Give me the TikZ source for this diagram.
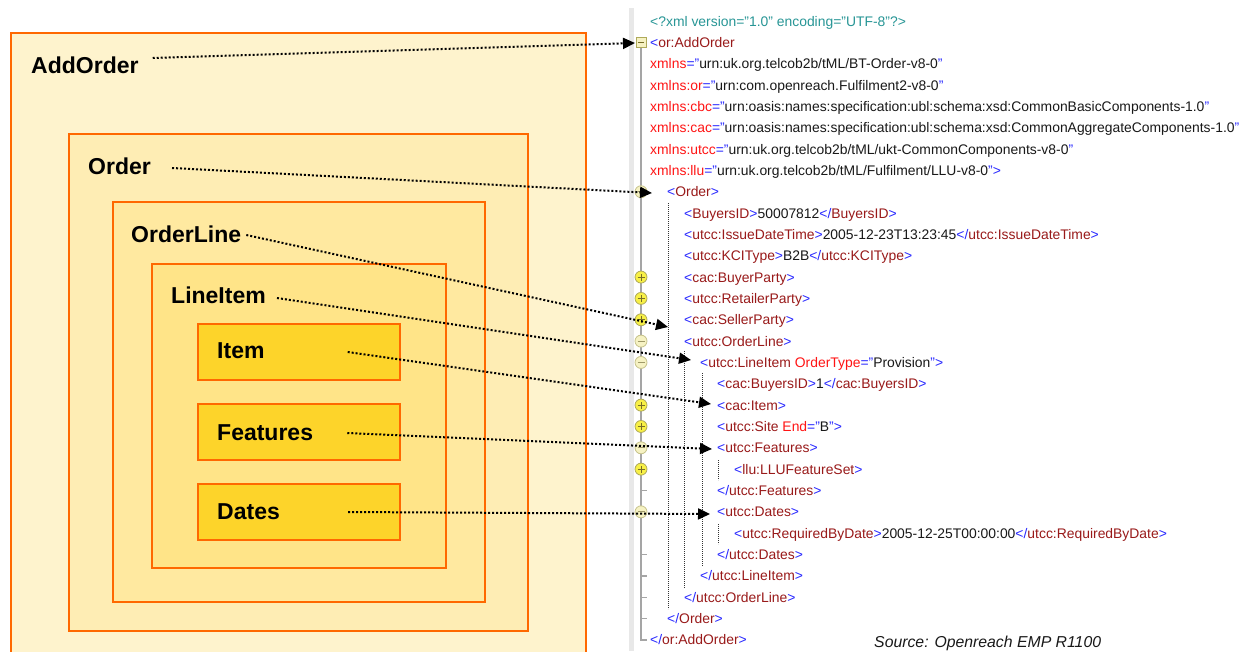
\documentclass[tikz,border=0pt]{standalone}
\usepackage{fontspec}
\setmainfont{Liberation Sans}
\usetikzlibrary{arrows.meta}
\definecolor{bord}{RGB}{255,104,0}
\definecolor{fA}{RGB}{254,243,205}
\definecolor{fB}{RGB}{254,237,180}
\definecolor{fC}{RGB}{255,233,160}
\definecolor{fD}{RGB}{255,228,136}
\definecolor{fE}{RGB}{253,212,42}
\definecolor{xb}{RGB}{40,40,255}
\definecolor{xr}{RGB}{153,26,26}
\definecolor{xa}{RGB}{255,20,20}
\definecolor{xt}{RGB}{40,150,150}
\definecolor{xk}{RGB}{25,25,25}
\definecolor{iconb}{RGB}{175,170,90}
\definecolor{iconp}{RGB}{248,240,70}
\definecolor{iconq}{RGB}{246,242,195}
\definecolor{iconl}{RGB}{120,110,40}
\definecolor{treeg}{RGB}{165,165,165}
\definecolor{bandg}{RGB}{232,232,232}
\newcommand\XLt{\textcolor{xb}{<}}
\newcommand\XGt{\textcolor{xb}{>}}
\newcommand\XLs{\textcolor{xb}{</}}
\newcommand\XEl[1]{\textcolor{xr}{#1}}
\newcommand\XAt[1]{\textcolor{xa}{#1}}
\newcommand\XEq{\textcolor{xb}{="}}
\newcommand\XQ{\textcolor{xb}{"}}
\newcommand\XV[1]{\textcolor{xk}{#1}}
\newcommand\XOpen[1]{\XLt\XEl{#1}\XGt}
\newcommand\XClose[1]{\XLs\XEl{#1}\XGt}
\newcommand\xmlsize{\fontsize{13.9}{16}\selectfont}
\tikzset{
  box/.style={draw=bord, line width=2pt, anchor=north west, inner sep=0pt},
  lab/.style={anchor=base west, inner sep=0pt, font=\fontsize{23}{26}\selectfont\bfseries},
  xl/.style={anchor=base west, inner sep=0pt, font=\xmlsize},
  conn/.style={line width=2pt, dash pattern=on 2pt off 2pt, -{Triangle[length=12pt,width=11pt]}},
  treedot/.style={line width=0.8pt, dash pattern=on 0.8pt off 1.2pt, black!80},
  plusic/.style={circle, draw=iconb, fill=iconp, minimum size=12pt, inner sep=0pt, line width=0.8pt,
    path picture={\draw[iconl,line width=0.9pt]
      ([xshift=-3.5pt]path picture bounding box.center)--([xshift=3.5pt]path picture bounding box.center)
      ([yshift=-3.5pt]path picture bounding box.center)--([yshift=3.5pt]path picture bounding box.center);}},
  minusic/.style={circle, draw=iconb!70, fill=iconq, minimum size=12pt, inner sep=0pt, line width=0.8pt,
    path picture={\draw[iconl!70,line width=0.9pt]
      ([xshift=-3.5pt]path picture bounding box.center)--([xshift=3.5pt]path picture bounding box.center);}},
  sqic/.style={rectangle, draw=iconb, fill=iconq, minimum size=10pt, inner sep=0pt, line width=0.8pt,
    path picture={\draw[iconl,line width=0.9pt]
      ([xshift=-3pt]path picture bounding box.center)--([xshift=3pt]path picture bounding box.center);}}
}
\begin{document}
\begin{tikzpicture}[x=1pt,y=-1pt]
\useasboundingbox (0,0) rectangle (1241,651);
\fill[white] (0,0) rectangle (1241,651);
% nested boxes
\node[box, fill=fA, minimum width=575pt, minimum height=624pt] (bAdd) at (10,32) {};
\node[box, fill=fB, minimum width=459pt, minimum height=497pt] (bOrd) at (68,133) {};
\node[box, fill=fC, minimum width=372pt, minimum height=400pt] (bOL) at (112,201) {};
\node[box, fill=fD, minimum width=294pt, minimum height=304pt] (bLI) at (151,263) {};
\node[box, fill=fE, minimum width=202pt, minimum height=56pt] (bIt) at (197,323) {};
\node[box, fill=fE, minimum width=202pt, minimum height=56pt] (bFe) at (197,403) {};
\node[box, fill=fE, minimum width=202pt, minimum height=56pt] (bDa) at (197,483) {};
% labels
\node[lab] (tAdd) at (31,73) {AddOrder};
\node[lab] (tOrd) at (88,174) {Order};
\node[lab] (tOL) at (131,242) {OrderLine};
\node[lab] (tLI) at (171,303) {LineItem};
\node[lab] (tIt) at (217,358) {Item};
\node[lab] (tFe) at (217,440) {Features};
\node[lab] (tDa) at (217,519) {Dates};
% xml panel structure
\fill[bandg] (629,8) rectangle (634,651);
\draw[treeg, line width=1.5pt] (641,48) -- (641,{21+21.34*29}) -- (647,{21+21.34*29});
\foreach \r in {22,25,26,27,28} \draw[treeg, line width=1.3pt] (641,{21+21.34*\r}) -- (647,{21+21.34*\r});
\draw[treedot] (668,203) -- (668,609);
\draw[treedot] (684,351) -- (684,588);
\draw[treedot] (702,373) -- (702,566);
\draw[treedot] (718,460) -- (718,480);
\draw[treedot] (718,524) -- (718,544);
% xml text
\node[xl] (l0) at (650,{26+21.34*0}) {\textcolor{xt}{<?xml version="1.0" encoding="UTF-8"?>}};
\node[xl] (l1) at (650,{26.5+21.34*1}) {\XLt\XEl{or:AddOrder}};
\node[xl] (l2) at (650,{26+21.34*2}) {\XAt{xmlns}\XEq\XV{urn:uk.org.telcob2b/tML/BT-Order-v8-0}\XQ};
\node[xl] (l3) at (650,{26+21.34*3}) {\XAt{xmlns:or}\XEq\XV{urn:com.openreach.Fulfilment2-v8-0}\XQ};
\node[xl] (l4) at (650,{26+21.34*4}) {\XAt{xmlns:cbc}\XEq\XV{urn:oasis:names:specification:ubl:schema:xsd:CommonBasicComponents-1.0}\XQ};
\node[xl] (l5) at (650,{26+21.34*5}) {\XAt{xmlns:cac}\XEq\XV{urn:oasis:names:specification:ubl:schema:xsd:CommonAggregateComponents-1.0}\XQ};
\node[xl] (l6) at (650,{26+21.34*6}) {\XAt{xmlns:utcc}\XEq\XV{urn:uk.org.telcob2b/tML/ukt-CommonComponents-v8-0}\XQ};
\node[xl] (l7) at (650,{26+21.34*7}) {\XAt{xmlns:llu}\XEq\XV{urn:uk.org.telcob2b/tML/Fulfilment/LLU-v8-0}\XQ\XGt};
\node[xl] (l8) at (667,{26+21.34*8}) {\XOpen{Order}};
\node[xl] (l9) at (684,{26+21.34*9}) {\XOpen{BuyersID}\XV{50007812}\XClose{BuyersID}};
\node[xl] (l10) at (684,{26+21.34*10}) {\XOpen{utcc:IssueDateTime}\XV{2005-12-23T13:23:45}\XClose{utcc:IssueDateTime}};
\node[xl] (l11) at (684,{26+21.34*11}) {\XOpen{utcc:KCIType}\XV{B2B}\XClose{utcc:KCIType}};
\node[xl] (l12) at (684,{26+21.34*12}) {\XOpen{cac:BuyerParty}};
\node[xl] (l13) at (684,{26+21.34*13}) {\XOpen{utcc:RetailerParty}};
\node[xl] (l14) at (684,{26+21.34*14}) {\XOpen{cac:SellerParty}};
\node[xl] (l15) at (684,{26+21.34*15}) {\XOpen{utcc:OrderLine}};
\node[xl] (l16) at (700,{26+21.34*16}) {\XLt\XEl{utcc:LineItem} \XAt{OrderType}\XEq\XV{Provision}\XQ\XGt};
\node[xl] (l17) at (717,{26+21.34*17}) {\XOpen{cac:BuyersID}\XV{1}\XClose{cac:BuyersID}};
\node[xl] (l18) at (717,{26+21.34*18}) {\XOpen{cac:Item}};
\node[xl] (l19) at (717,{26+21.34*19}) {\XLt\XEl{utcc:Site} \XAt{End}\XEq\XV{B}\XQ\XGt};
\node[xl] (l20) at (717,{26+21.34*20}) {\XOpen{utcc:Features}};
\node[xl] (l21) at (734,{26+21.34*21}) {\XOpen{llu:LLUFeatureSet}};
\node[xl] (l22) at (717,{26+21.34*22}) {\XClose{utcc:Features}};
\node[xl] (l23) at (717,{26+21.34*23}) {\XOpen{utcc:Dates}};
\node[xl] (l24) at (734,{26+21.34*24}) {\XOpen{utcc:RequiredByDate}\XV{2005-12-25T00:00:00}\XClose{utcc:RequiredByDate}};
\node[xl] (l25) at (717,{26+21.34*25}) {\XClose{utcc:Dates}};
\node[xl] (l26) at (700,{26+21.34*26}) {\XClose{utcc:LineItem}};
\node[xl] (l27) at (684,{26+21.34*27}) {\XClose{utcc:OrderLine}};
\node[xl] (l28) at (667,{26+21.34*28}) {\XClose{Order}};
\node[xl] (l29) at (650,{26+21.34*29}) {\XClose{or:AddOrder}};
\node[anchor=base west, inner sep=0pt, font=\fontsize{15.8}{18}\selectfont\itshape, text=xk] (src) at (874,647) {Source: Openreach EMP R1100};
% icons
\node[sqic] (i1) at (641,{21+21.34*1}) {};
\foreach \r in {8,15,16,20,23} \node[minusic] (m\r) at (641,{21+21.34*\r}) {};
\foreach \r in {12,13,14,18,19,21} \node[plusic] (p\r) at (641,{21+21.34*\r}) {};
% arrow targets
\coordinate (eAdd) at (635,43);
\coordinate (eOrd) at (652,193);
\coordinate (eOL) at (668,327);
\coordinate (eLI) at (691,360);
\coordinate (eIt) at (711,404);
\coordinate (eFe) at (712,449);
\coordinate (eDa) at (710,514);
% connectors
\draw[conn] ([xshift=14pt,yshift=15pt]tAdd.base east) -- (eAdd);
\draw[conn] ([xshift=21pt,yshift=6pt]tOrd.base east) -- (eOrd);
\draw[conn] ([xshift=5pt,yshift=7pt]tOL.base east) -- (eOL);
\draw[conn] ([xshift=11pt,yshift=5pt]tLI.base east) -- (eLI);
\draw[conn] ([xshift=83pt,yshift=6pt]tIt.base east) -- (eIt);
\draw[conn] ([xshift=34pt,yshift=7pt]tFe.base east) -- (eFe);
\draw[conn] ([xshift=68pt,yshift=7pt]tDa.base east) -- (eDa);
\end{tikzpicture}
\end{document}
